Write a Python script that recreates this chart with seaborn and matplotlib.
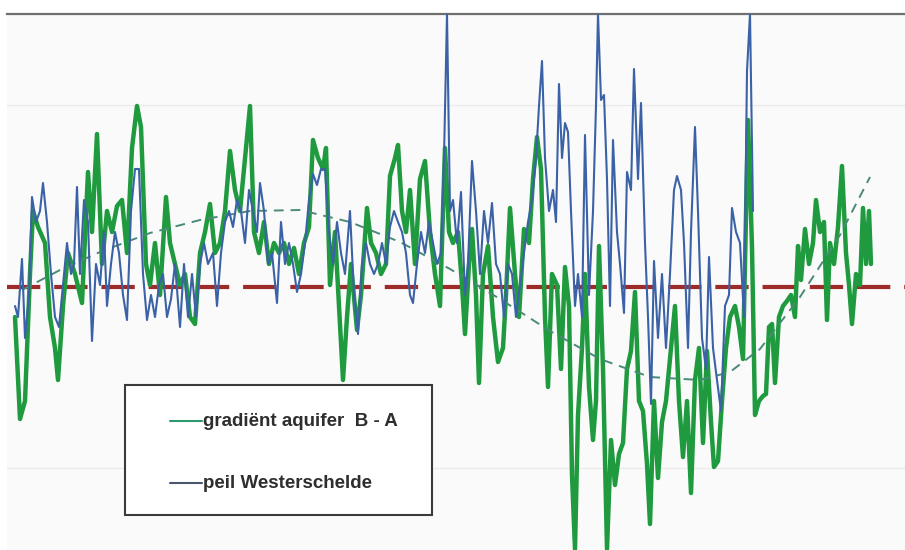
import matplotlib
matplotlib.use("Agg")
import matplotlib.pyplot as plt
import seaborn as sns
import pandas as pd
from matplotlib.patches import Rectangle
from matplotlib.lines import Line2D

# ---- data (x = day index, values in mm relative to reference level) ----
green_x = [15,20,25,30,33,38,45,50,55,58,63,68,75,82,88,92,97,102,107,112,117,122,127,132,137,141,146,150,
           155,160,166,170,175,180,185,190,195,200,205,210,215,220,225,230,235,240,245,250,254,259,264,269,274,279,284,289,294,299,
           304,309,313,318,323,326,330,335,339,343,347,351,357,361,367,371,376,381,386,390,395,398,402,406,410,415,420,425,430,435,440,445,449,
           453,458,462,465,469,472,476,479,483,488,493,498,503,506,510,515,519,524,529,533,537,541,545,548,552,557,561,565,569,572,575,578,582,585,589,593,596,599,
           603,607,611,615,619,623,627,631,635,639,643,647,650,654,658,662,666,670,675,679,683,687,691,695,699,703,707,711,714,718,722,726,730,735,739,743,748,
           752,755,759,763,766,769,772,775,779,783,787,791,795,798,801,805,809,813,816,820,824,827,830,834,838,842,846,849,852,856,860,863,866,869,871]
green_v = [-30,-132,-114,13,76,60,44,-30,-61,-93,-19,34,13,-16,115,55,153,23,76,55,81,87,34,139,181,160,23,2,
           44,-8,90,44,23,2,13,-30,-37,34,55,83,34,44,76,136,97,76,129,181,55,34,65,23,44,34,44,23,39,13,
           44,60,147,129,118,139,2,55,-19,-93,-30,23,-43,-8,79,44,34,13,23,111,129,142,76,55,97,23,108,126,55,13,-19,139,55,
           44,55,2,-47,23,58,-8,-96,13,41,-30,-75,-61,-8,79,13,-30,58,44,108,150,118,-30,-100,13,2,-82,20,-19,-188,-262,-128,-61,13,-100,-153,-114,41,
           -82,-262,-153,-198,-167,-156,-82,-64,-5,-114,-124,-177,-237,-114,-191,-135,-114,-72,-19,-114,-170,-114,-206,-93,-61,-156,-64,-135,-180,-174,-114,-61,-30,-19,-40,-72,167,
           40,-128,-114,-109,-107,-40,-37,-96,-30,-19,-14,-8,-30,41,7,58,23,44,87,55,65,-33,44,23,60,121,34,2,-37,13,2,79,23,76,23]

blue_x = [15,18,22,25,29,32,36,40,43,47,51,55,59,63,67,71,74,77,80,84,88,92,96,100,104,107,111,115,119,123,127,131,135,139,143,147,
          151,155,159,163,167,171,175,180,184,188,192,196,200,204,208,213,217,221,225,229,233,237,241,245,249,253,257,260,264,268,272,277,281,285,289,293,297,
          301,305,309,313,317,321,325,329,333,337,341,345,350,354,358,362,366,370,374,378,382,386,390,394,398,402,406,410,413,417,421,425,429,433,437,441,444,447,450,
          453,457,461,465,468,472,476,480,484,488,492,496,500,504,508,512,516,520,524,528,532,536,539,542,545,549,553,556,559,562,565,568,571,575,578,582,585,589,593,596,598,
          601,604,607,610,613,617,620,624,627,631,634,638,641,645,648,651,654,658,662,666,670,674,677,681,684,688,691,695,698,702,706,709,713,717,721,725,729,732,736,740,744,747,750,753]
blue_v = [-19,-30,28,-51,-8,90,65,76,104,65,13,-30,-40,2,44,13,23,100,13,87,65,-54,23,2,55,-19,23,55,34,-8,-33,76,118,118,13,-33,
          -8,-30,2,13,-30,-12,23,-40,23,-30,13,-30,23,44,23,34,-19,34,65,76,60,87,76,44,97,76,55,104,76,23,34,-16,65,23,44,23,-5,
          13,44,87,113,102,118,118,55,23,65,34,13,76,-8,-47,23,44,23,13,23,44,23,60,76,65,55,34,-8,-16,23,55,34,65,44,23,34,129,273,76,
          87,44,95,-8,23,126,76,13,76,44,84,23,13,-30,23,13,-30,2,34,65,87,129,181,226,129,76,97,65,203,129,164,155,76,-19,13,-30,152,-8,76,181,273,
          187,192,108,-19,147,55,23,-26,115,97,218,108,184,44,-30,-117,26,-51,13,-61,13,97,111,97,44,-61,55,160,76,-51,-82,30,-61,-93,-124,-19,-8,79,55,44,-30,216,273,76]

trend_x = [22,60,100,150,200,250,300,350,400,450,500,550,600,650,700,730,760,800,840,870]
trend_v = [-3,17,35,54,67,76,77,65,45,18,-12,-44,-72,-90,-93,-85,-62,-10,52,110]

ref_level = 0
grid_levels = [-181, 182]
labels = ["gradiënt aquifer  B - A", "peil Westerschelde"]

# ---- figure ----
W, H = 905, 550
sns.set_theme(style="white")
plt.rcParams['lines.scale_dashes'] = False
plt.rcParams['font.family'] = ['Liberation Sans', 'DejaVu Sans']

fig = plt.figure(figsize=(W / 100, H / 100), dpi=100)
fig.patch.set_facecolor("white")
ax = fig.add_axes([7 / W, 0, 1 - 7 / W, (H - 14) / H])
ax.set_facecolor("#fafafa")

df_g = pd.DataFrame({"x": green_x, "v": green_v})
df_b = pd.DataFrame({"x": blue_x, "v": blue_v})
df_t = pd.DataFrame({"x": trend_x, "v": trend_v})

for gl in grid_levels:
    ax.axhline(gl, color="#ebebeb", lw=1.0, zorder=0)

red = ax.axhline(ref_level, color="#9c2b2a", lw=3.0, zorder=1)
red.set_dashes((24, 10))

sns.lineplot(data=df_g, x="x", y="v", ax=ax, color="#1f9a3e", linewidth=3.2,
             sort=False, estimator=None, zorder=2)
sns.lineplot(data=df_t, x="x", y="v", ax=ax, color="#4a8a78", linewidth=1.4,
             sort=False, estimator=None, zorder=3, dashes=False)
ax.lines[-1].set_dashes((7, 5))
sns.lineplot(data=df_b, x="x", y="v", ax=ax, color="#3b62a6", linewidth=1.5,
             sort=False, estimator=None, zorder=4)

ax.set_xlim(7, 905)
ax.set_ylim(287 - 550, 287 - 14)
ax.set_xticks([])
ax.set_yticks([])
ax.set_xlabel("")
ax.set_ylabel("")
for s in ["left", "right", "bottom"]:
    ax.spines[s].set_visible(False)
ax.spines["top"].set_color("#6f6f6f")
ax.spines["top"].set_linewidth(1.6)

# ---- legend box (drawn manually to match position) ----
def fx(px):
    return px / W

def fy(py):
    return 1 - py / H

fig.add_artist(Rectangle((fx(125), fy(515)), fx(432) - fx(125), fy(385) - fy(515),
                         transform=fig.transFigure, facecolor="white",
                         edgecolor="#3a3a3a", lw=1.5, zorder=10))
leg_colors = ["#2c9a6c", "#4a5570"]
leg_y = [421, 483]
for lab, col, yy in zip(labels, leg_colors, leg_y):
    fig.add_artist(Line2D([fx(170), fx(202)], [fy(yy), fy(yy)], color=col, lw=1.5,
                          transform=fig.transFigure, zorder=11))
    fig.text(fx(203), fy(yy), lab, fontsize=13.5, fontweight="bold", color="#2e2e2e",
             va="center", ha="left", zorder=12)

fig.savefig("out.png", dpi=100)
